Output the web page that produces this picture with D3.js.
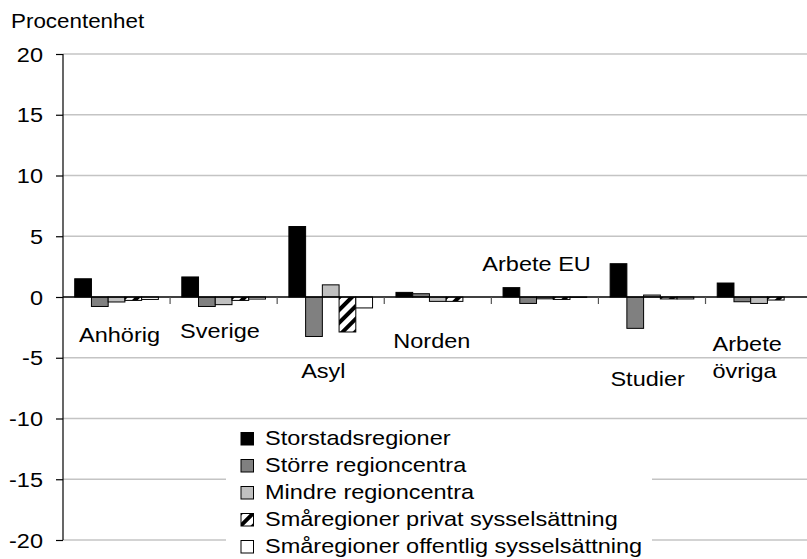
<!DOCTYPE html>
<html>
<head>
<meta charset="utf-8">
<script src="https://cdn.jsdelivr.net/npm/d3@7"></script>
<style>
  html, body { margin: 0; padding: 0; background: #fff; }
  svg { display: block; overflow: hidden; }
  text { font-family: "Liberation Sans", Arial, sans-serif; fill: #000; }
</style>
</head>
<body>
<svg id="chart" width="807" height="559"></svg>
<script>
// ---- data ----
const categories = ["Anhörig", "Sverige", "Asyl", "Norden", "Arbete EU", "Studier", "Arbete övriga"];
const seriesNames = [
  "Storstadsregioner",
  "Större regioncentra",
  "Mindre regioncentra",
  "Småregioner privat sysselsättning",
  "Småregioner offentlig sysselsättning"
];
const storstadsregioner   = [1.5, 1.65, 5.8, 0.38, 0.77, 2.74, 1.15];
const storreRegioncentra  = [-0.78, -0.78, -3.25, 0.27, -0.53, -2.58, -0.39];
const mindreRegioncentra  = [-0.41, -0.63, 1.0, -0.36, -0.15, 0.16, -0.53];
const smaPrivat           = [-0.28, -0.28, -2.88, -0.36, -0.2, -0.16, -0.25];
const smaOffentlig        = [-0.2, -0.17, -0.9, 0, -0.03, -0.16, 0];
const yTicks = [-20, -15, -10, -5, 0, 5, 10, 15, 20];
const yAxisTitle = "Procentenhet";

// category label layout (lines, x offset px from group start, baseline in axis units)
const labelLines = [["Anhörig"], ["Sverige"], ["Asyl"], ["Norden"], ["Arbete EU"], ["Studier"], ["Arbete", "övriga"]];
const labelDx = [16, 10, 24, 9, -9, 12, 7];
const labelBaseline = [-3.68, -3.35, -6.64, -4.2, 2.16, -7.3, -4.48];

// ---- build ----
const seriesValues = [storstadsregioner, storreRegioncentra, mindreRegioncentra, smaPrivat, smaOffentlig];
const fills = ["#000000", "#808080", "#c0c0c0", "url(#hatch)", "#ffffff"];

const svg = d3.select("#chart");
const defs = svg.append("defs");
const pat = defs.append("pattern")
  .attr("id", "hatch")
  .attr("patternUnits", "userSpaceOnUse")
  .attr("width", 9).attr("height", 9)
  .attr("patternTransform", "rotate(45)");
pat.append("rect").attr("width", 9).attr("height", 9).attr("fill", "#fff");
pat.append("rect").attr("width", 4).attr("height", 9).attr("fill", "#000");

const pLeft = 63, pRight = 812.6, pTop = 54, pBottom = 540;
const y = d3.scaleLinear().domain([-20, 20]).range([pBottom, pTop]);
const x0 = d3.scaleBand().domain(categories).range([pLeft, pRight]).paddingInner(0).paddingOuter(0);
const x1 = d3.scaleBand().domain(seriesNames).range([0, x0.bandwidth()]).paddingInner(0).paddingOuter(0.7);

const SX = 1.12;
const FS = 21;
function sText(g, x, yy, str, anchor) {
  return g.append("text")
    .attr("transform", `translate(${x},${yy}) scale(${SX},1)`)
    .attr("text-anchor", anchor || "start")
    .attr("font-size", FS)
    .text(str);
}

// gridlines
svg.append("g").selectAll("line").data(yTicks.filter(t => t !== 0)).join("line")
  .attr("x1", pLeft).attr("x2", 807)
  .attr("y1", d => y(d)).attr("y2", d => y(d))
  .attr("stroke", "#c4c4c4").attr("stroke-width", 1.3);

// y axis
const yAxis = d3.axisLeft(y).tickValues(yTicks).tickSize(7).tickFormat("");
const yg = svg.append("g").attr("transform", `translate(${pLeft},0)`).call(yAxis);
yg.select(".domain").attr("stroke", "#000").attr("stroke-width", 1.2).attr("d", `M0,${pTop}V${pBottom}`);
yg.selectAll(".tick line").attr("stroke", "#000").attr("stroke-width", 1.2);
const ylab = svg.append("g");
yTicks.forEach(t => sText(ylab, 43, y(t) + 7.5, String(t), "end"));

// axis title
sText(svg, 11, 28, yAxisTitle, "start").attr("font-size", 20);

// bars
const groups = svg.append("g").selectAll("g").data(categories).join("g")
  .attr("transform", d => `translate(${x0(d)},0)`);
groups.selectAll("rect")
  .data((c, i) => seriesNames.map((s, j) => ({ s, j, v: seriesValues[j][i] })))
  .join("rect")
  .attr("x", d => x1(d.s))
  .attr("width", x1.bandwidth())
  .attr("y", d => y(Math.max(0, d.v)))
  .attr("height", d => Math.abs(y(d.v) - y(0)))
  .attr("fill", d => fills[d.j])
  .attr("stroke", "#000")
  .attr("stroke-width", 1);

// zero line with category ticks
const xAxis = d3.axisBottom(x0).tickSize(0).tickFormat("");
const xg = svg.append("g").attr("transform", `translate(0,${y(0)})`).call(xAxis);
xg.select(".domain").attr("stroke", "#000").attr("stroke-width", 1.3).attr("d", `M${pLeft},0H807`);
xg.selectAll(".tick").remove();
svg.append("g").selectAll("line").data(categories).join("line")
  .attr("x1", d => x0(d) + x0.bandwidth())
  .attr("x2", d => x0(d) + x0.bandwidth())
  .attr("y1", y(0)).attr("y2", y(0) + 7)
  .attr("stroke", "#555").attr("stroke-width", 1.2);

// category labels
const lg = svg.append("g");
categories.forEach((c, i) => {
  labelLines[i].forEach((ln, k) => {
    sText(lg, x0(c) + labelDx[i], y(labelBaseline[i]) + k * 27, ln, "start");
  });
});

// legend
const legend = svg.append("g");
legend.append("rect").attr("x", 226).attr("y", 423).attr("width", 426).attr("height", 140).attr("fill", "#fff");
seriesNames.forEach((s, j) => {
  const by = 445 + j * 27;
  legend.append("rect").attr("x", 241).attr("y", by - 12.5).attr("width", 12.5).attr("height", 12.5)
    .attr("fill", fills[j]).attr("stroke", "#000").attr("stroke-width", 1);
  sText(legend, 265, by, s, "start");
});
</script>
</body>
</html>
